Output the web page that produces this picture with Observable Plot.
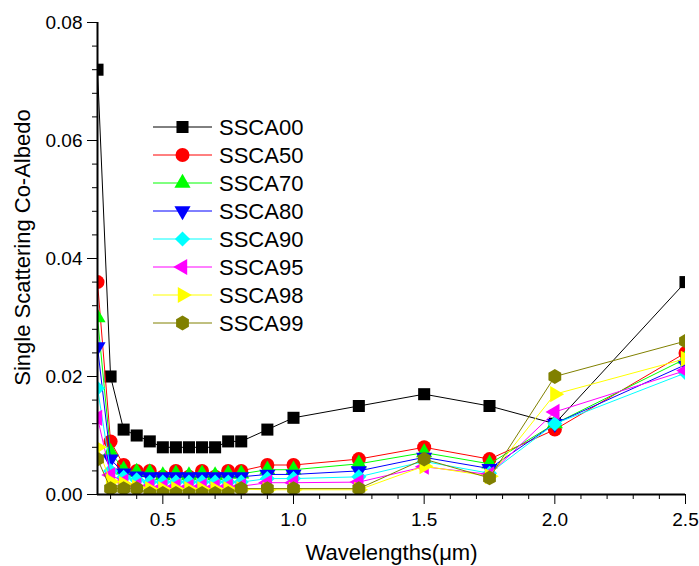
<!DOCTYPE html>
<html><head><meta charset="utf-8">
<script src="https://cdn.jsdelivr.net/npm/d3@7"></script>
<script src="https://cdn.jsdelivr.net/npm/@observablehq/plot@0.6"></script>
<style>
body{margin:0;background:#fff;}
#chart{position:relative;width:699px;height:566px;}
</style>
</head><body><div id="chart"></div>
<script>
// ---- data ----
const wavelengths = [0.25,0.3,0.35,0.4,0.45,0.5,0.55,0.6,0.65,0.7,0.75,0.8,0.9,1.0,1.25,1.5,1.75,2.0,2.5];
const seriesNames = ["SSCA00","SSCA50","SSCA70","SSCA80","SSCA90","SSCA95","SSCA98","SSCA99"];
const SSCA00 = [0.072,0.020,0.011,0.010,0.009,0.008,0.008,0.008,0.008,0.008,0.009,0.009,0.011,0.013,0.015,0.017,0.015,0.012,0.036];
const SSCA50 = [0.036,0.009,0.005,0.004,0.004,0.003,0.004,0.003,0.004,0.003,0.004,0.004,0.005,0.005,0.006,0.008,0.006,0.011,0.024];
const SSCA70 = [0.030,0.0072,0.0042,0.0038,0.0037,0.0032,0.0035,0.0032,0.0035,0.0032,0.0035,0.0035,0.0042,0.0042,0.0052,0.0071,0.0052,0.012,0.023];
const SSCA80 = [0.025,0.006,0.0036,0.0031,0.003,0.003,0.003,0.003,0.003,0.003,0.003,0.003,0.0034,0.0034,0.004,0.0063,0.0044,0.012,0.022];
const SSCA90 = [0.018,0.004,0.0029,0.0025,0.0021,0.0021,0.0021,0.0021,0.0021,0.0021,0.0021,0.0021,0.0027,0.0027,0.003,0.0056,0.0036,0.012,0.0206];
const SSCA95 = [0.013,0.0033,0.0022,0.0015,0.0014,0.0013,0.0014,0.0013,0.0014,0.0013,0.0014,0.0014,0.002,0.002,0.0021,0.0047,0.0034,0.014,0.021];
const SSCA98 = [0.008,0.0022,0.0018,0.0012,0.0009,0.0009,0.0009,0.0009,0.0009,0.0009,0.0009,0.0009,0.0008,0.0008,0.0008,0.0048,0.0031,0.017,0.023];
const SSCA99 = [0.006,0.001,0.001,0.001,0.0002,0.0002,0.0002,0.0002,0.0002,0.0002,0.0002,0.001,0.001,0.001,0.001,0.006,0.0028,0.020,0.026];
const seriesValues = [SSCA00,SSCA50,SSCA70,SSCA80,SSCA90,SSCA95,SSCA98,SSCA99];
const xTickLabels = [0.5,1.0,1.5,2.0,2.5];
const yTickLabels = [0.00,0.02,0.04,0.06,0.08];
const xTitle = "Wavelengths(\u03bcm)";
const yTitle = "Single Scattering Co-Albedo";

// ---- styles ----
const hexagon = {draw(ctx, size){const rx=Math.sqrt(size/Math.PI), ry=rx*2/Math.sqrt(3), hy=ry/2;
  ctx.moveTo(0,ry);ctx.lineTo(rx,hy);ctx.lineTo(rx,-hy);ctx.lineTo(0,-ry);ctx.lineTo(-rx,-hy);ctx.lineTo(-rx,hy);ctx.closePath();}};
const styles = [
  {color:"#000000", symbol:d3.symbolSquare, rotate:0, r:6.8},
  {color:"#ff0000", symbol:d3.symbolCircle, rotate:0, r:7},
  {color:"#00ff00", symbol:d3.symbolTriangle, rotate:0, r:6},
  {color:"#0000ff", symbol:d3.symbolTriangle, rotate:180, r:6},
  {color:"#00ffff", symbol:d3.symbolDiamond2, rotate:0, r:6.8},
  {color:"#ff00ff", symbol:d3.symbolTriangle, rotate:-90, r:6},
  {color:"#ffff00", symbol:d3.symbolTriangle, rotate:90, r:6},
  {color:"#808000", symbol:hexagon, rotate:0, r:6.4}
];

const font = "'Liberation Sans', Arial, sans-serif";
const minorX = d3.range(3, 25).map(d => d/10).filter(d => Math.abs(d*2 - Math.round(d*2)) > 1e-6);
const minorY = d3.range(1, 20).map(d => d*0.004).filter(d => Math.abs(d/0.02 - Math.round(d/0.02)) > 1e-6);

const marks = [];
seriesValues.forEach((vals, i) => {
  const data = wavelengths.map((w, j) => ({w, v: vals[j]}));
  const s = styles[i];
  marks.push(Plot.line(data, {x:"w", y:"v", stroke:s.color, strokeWidth:1, clip:true}));
  marks.push(Plot.dot(data, {x:"w", y:"v", fill:s.color, stroke:"none", symbol:s.symbol, r:s.r, rotate:s.rotate, clip:true}));
});
marks.push(
  Plot.axisX({ticks:xTickLabels, tickSize:10, tickPadding:8, tickFormat:d3.format(".1f"), fontSize:19, label:null}),
  Plot.axisX({ticks:minorX, tickSize:5, tickFormat:() => "", label:null}),
  Plot.axisY({ticks:yTickLabels, tickSize:10, tickPadding:5, tickFormat:d3.format(".2f"), fontSize:19, label:null}),
  Plot.axisY({ticks:minorY, tickSize:5, tickFormat:() => "", label:null}),
  Plot.ruleY([0], {strokeWidth:2}),
  Plot.ruleX([0.25], {strokeWidth:2}),
  Plot.text([xTitle], {frameAnchor:"bottom", dy:58, fontSize:22, lineAnchor:"middle", textAnchor:"middle"}),
  Plot.text([yTitle], {frameAnchor:"left", dx:-75, dy:-11, rotate:-90, fontSize:22, lineAnchor:"middle", textAnchor:"middle"})
);

const chart = Plot.plot({
  width: 699, height: 566,
  marginLeft: 97, marginRight: 14, marginTop: 22, marginBottom: 72,
  style: {fontFamily: font, fontSize: "19px", color: "#000", background: "#fff"},
  x: {domain:[0.25, 2.5], label:null},
  y: {domain:[0, 0.08], label:null},
  marks
});
document.getElementById("chart").appendChild(chart);

// ---- legend ----
const svg = d3.select(chart);
const lg = svg.append("g").attr("font-family", font).attr("font-size", 22).attr("text-anchor", "start");
seriesNames.forEach((name, i) => {
  const s = styles[i];
  const y = 127 + i*28;
  const g = lg.append("g").attr("transform", `translate(0,${y})`);
  g.append("line").attr("x1",153).attr("x2",212).attr("y1",0).attr("y2",0).attr("stroke",s.color).attr("stroke-width",1);
  g.append("path").attr("d", d3.symbol(s.symbol, s.r*s.r*Math.PI)()).attr("fill", s.color)
    .attr("transform", `translate(182.5,0) rotate(${s.rotate})`);
  g.append("text").attr("x",219).attr("y",0).attr("dy","0.36em").attr("text-anchor","start").attr("fill","#000").text(name);
});
</script>
</body></html>
